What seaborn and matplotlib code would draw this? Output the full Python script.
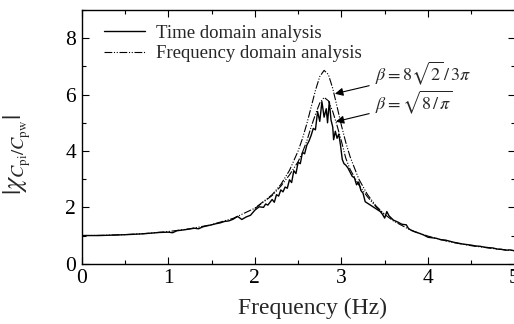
import matplotlib
matplotlib.use("Agg")
import matplotlib.pyplot as plt
import seaborn as sns
import pandas as pd
from matplotlib.ticker import MultipleLocator

# ---- data ----
f_time = [0.0, 0.1, 0.2, 0.3, 0.4, 0.5, 0.6, 0.7, 0.8, 0.9, 1.0, 1.05, 1.1, 1.2, 1.3, 1.35,
          1.4, 1.5, 1.55, 1.6, 1.65, 1.7, 1.75, 1.8, 1.85, 1.9, 1.95, 2.0, 2.05, 2.1, 2.125,
          2.15, 2.2, 2.225, 2.25, 2.275, 2.3, 2.325, 2.35, 2.375, 2.4, 2.425, 2.45, 2.475,
          2.5, 2.525, 2.55, 2.575, 2.6, 2.625, 2.65, 2.675, 2.7, 2.725, 2.75, 2.775, 2.8,
          2.825, 2.84, 2.86, 2.88, 2.9, 2.91, 2.93, 2.95, 2.97, 2.99, 3.01, 3.03, 3.05,
          3.075, 3.1, 3.125, 3.15, 3.175, 3.2, 3.225, 3.25, 3.275, 3.3, 3.35, 3.4, 3.45,
          3.475, 3.5, 3.525, 3.55, 3.6, 3.65, 3.7, 3.75, 3.775, 3.8, 3.85, 3.9, 3.95, 4.0,
          4.05, 4.1, 4.15, 4.2, 4.25, 4.3, 4.35, 4.4, 4.45, 4.5, 4.55, 4.6, 4.65, 4.7, 4.75,
          4.8, 4.85, 4.9, 4.95, 5.0]
v_time = [1.00, 1.00, 1.00, 1.01, 1.02, 1.03, 1.045, 1.06, 1.085, 1.11, 1.12, 1.10, 1.17,
          1.21, 1.26, 1.24, 1.31, 1.38, 1.42, 1.45, 1.50, 1.52, 1.58, 1.68, 1.57, 1.66, 1.72,
          1.90, 2.02, 2.00, 2.12, 2.08, 2.28, 2.18, 2.45, 2.40, 2.62, 2.55, 2.72, 2.68, 2.98,
          2.88, 3.30, 3.20, 3.60, 3.55, 3.95, 3.90, 4.20, 4.35, 4.55, 4.80, 4.75, 5.40, 5.05,
          5.75, 5.20, 5.50, 5.00, 5.75, 5.10, 4.85, 4.40, 4.70, 4.45, 4.60, 4.20, 3.70, 3.55,
          3.50, 3.40, 3.25, 3.10, 3.05, 2.80, 2.90, 2.60, 2.50, 2.20, 2.15, 2.05, 1.95, 1.85,
          1.75, 1.62, 1.85, 1.70, 1.55, 1.48, 1.40, 1.38, 1.25, 1.20, 1.13, 1.08, 1.02, 0.94,
          0.92, 0.90, 0.85, 0.84, 0.80, 0.76, 0.73, 0.70, 0.68, 0.66, 0.63, 0.62, 0.59, 0.57,
          0.56, 0.52, 0.51, 0.48, 0.49, 0.46]

f_freq1 = [0.0, 0.25, 0.5, 0.75, 1.0, 1.25, 1.5, 1.75, 2.0, 2.2, 2.3, 2.4, 2.5, 2.55, 2.6,
           2.65, 2.7, 2.75, 2.8, 2.85, 2.9, 2.95, 3.0, 3.05, 3.1, 3.2, 3.3, 3.4, 3.5, 3.6,
           3.8, 4.0, 4.25, 4.5, 4.75, 5.0]
v_freq1 = [1.00, 1.008, 1.032, 1.075, 1.142, 1.24, 1.387, 1.61, 1.97, 2.45, 2.81, 3.31, 4.00,
           4.44, 4.96, 5.55, 6.15, 6.64, 6.86, 6.71, 6.22, 5.57, 4.91, 4.31, 3.80, 3.01,
           2.46, 2.05, 1.75, 1.52, 1.19, 0.98, 0.775, 0.64, 0.54, 0.46]

f_freq2 = [2.0, 2.2, 2.3, 2.4, 2.5, 2.55, 2.6, 2.65, 2.7, 2.75, 2.8, 2.85, 2.9, 2.95, 3.0,
           3.05, 3.1, 3.2, 3.3, 3.4, 3.5]
v_freq2 = [1.96, 2.42, 2.75, 3.15, 3.62, 3.95, 4.35, 4.85, 5.30, 5.70, 5.90, 5.78, 5.40,
           4.90, 4.35, 3.75, 3.35, 2.80, 2.38, 2.02, 1.74]

labels = ["Time domain analysis", "Frequency domain analysis"]
beta_labels = [r"$\beta = 8\sqrt{2}\,/\,3\pi$", r"$\beta = \sqrt{8\,/\,\pi}$"]

# ---- style ----
sns.set_style("ticks")
plt.rcParams["font.family"] = ["Liberation Serif", "DejaVu Serif"]
plt.rcParams["mathtext.fontset"] = "stix"

fig = plt.figure(figsize=(5.14, 3.24), dpi=100)
ax = fig.add_axes([0.159, 0.186, 0.842, 0.783])

dashdotdot = (0, (7, 1.5, 1, 1.5, 1, 1.5))

df_t = pd.DataFrame({"f": f_time, "v": v_time})
df_1 = pd.DataFrame({"f": f_freq1, "v": v_freq1})
df_2 = pd.DataFrame({"f": f_freq2, "v": v_freq2})

sns.lineplot(data=df_t, x="f", y="v", ax=ax, color="black", lw=1.0, label=labels[0])
sns.lineplot(data=df_1, x="f", y="v", ax=ax, color="black", lw=0.8, linestyle=dashdotdot,
             label=labels[1])
sns.lineplot(data=df_2, x="f", y="v", ax=ax, color="black", lw=0.8, linestyle=dashdotdot,
             legend=False)

ax.set_xlim(0, 5)
ax.set_ylim(0, 9)
ax.xaxis.set_major_locator(MultipleLocator(1))
ax.xaxis.set_minor_locator(MultipleLocator(0.5))
ax.yaxis.set_major_locator(MultipleLocator(2))
ax.yaxis.set_minor_locator(MultipleLocator(1))
ax.tick_params(which="both", direction="in", top=True, right=True, labelsize=15.5,
               width=0.8, colors="black")
ax.tick_params(which="major", length=5, pad=4)
ax.tick_params(which="minor", length=3)
for s in ax.spines.values():
    s.set_linewidth(1.0)
    s.set_color("black")

ax.set_xlabel("Frequency (Hz)", fontsize=17)
ax.xaxis.set_label_coords(0.534, -0.135)
ax.set_ylabel(r"$|\chi_{C_{\rm pi}/C_{\rm pw}}|$", fontsize=19)
ax.yaxis.set_label_coords(-0.113, 0.43)

leg = ax.legend(loc="upper left", frameon=False, fontsize=13.5, handlelength=2.2,
                handletextpad=0.6, borderaxespad=0.3, labelspacing=0.2,
                bbox_to_anchor=(0.02, 0.995))

ax.annotate(beta_labels[0], xy=(2.925, 6.03), xytext=(3.39, 6.77), fontsize=13,
            va="center", ha="left",
            arrowprops=dict(arrowstyle="-|>", color="black", lw=0.8, mutation_scale=12,
                            shrinkA=2, shrinkB=0))
ax.annotate(beta_labels[1], xy=(2.935, 5.04), xytext=(3.39, 5.71), fontsize=13,
            va="center", ha="left",
            arrowprops=dict(arrowstyle="-|>", color="black", lw=0.8, mutation_scale=12,
                            shrinkA=2, shrinkB=0))

fig.savefig("out.png", dpi=100)
